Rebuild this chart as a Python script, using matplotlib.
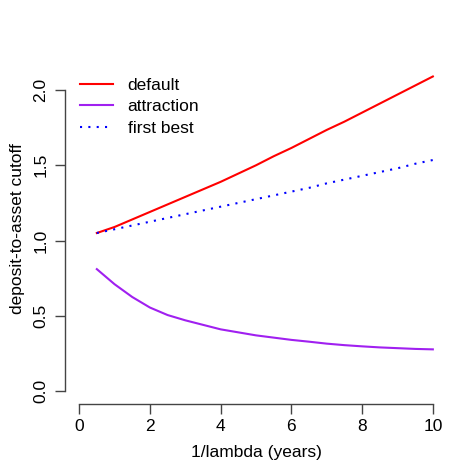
import numpy as np
import matplotlib
matplotlib.use("Agg")
import matplotlib.pyplot as plt

plt.rcParams['font.family'] = ['Liberation Sans', 'DejaVu Sans']

# values
x = [0.5, 1, 1.5, 2, 2.5, 3, 3.5, 4, 4.5, 5, 5.5, 6, 6.5, 7, 7.5, 8, 8.5, 9, 9.5, 10]
default = [1.05, 1.09, 1.14, 1.19, 1.24, 1.29, 1.34, 1.39, 1.445, 1.50,
           1.56, 1.615, 1.675, 1.735, 1.79, 1.85, 1.91, 1.97, 2.03, 2.09]
attraction = [0.81, 0.71, 0.625, 0.555, 0.505, 0.47, 0.44, 0.41, 0.39, 0.37,
              0.355, 0.34, 0.328, 0.315, 0.305, 0.297, 0.29, 0.285, 0.28, 0.277]
first_best = [1.05, 1.075, 1.10, 1.125, 1.15, 1.175, 1.20, 1.225, 1.25, 1.275,
              1.30, 1.325, 1.35, 1.38, 1.405, 1.43, 1.455, 1.48, 1.51, 1.535]

fig = plt.figure(figsize=(4.72, 4.72), dpi=100)
ax = fig.add_axes([65/472, 1-404/472, (447-65)/472, (404-53)/472])

ax.plot(x, default, color='red', lw=1.5, label='default')
ax.plot(x, attraction, color='#A020F0', lw=1.5, label='attraction')
ax.plot(x, first_best, color='blue', lw=1.5, ls=(0, (1, 3)), label='first best')

ax.set_xlim(-0.4, 10.4)
ax.set_ylim(-0.086, 2.246)
ax.set_xticks([0, 2, 4, 6, 8, 10])
ax.set_yticks([0.0, 0.5, 1.0, 1.5, 2.0])
ax.set_yticklabels(['0.0', '0.5', '1.0', '1.5', '2.0'])

for s in ['top', 'right']:
    ax.spines[s].set_visible(False)
ax.spines['left'].set_bounds(0, 2)
ax.spines['bottom'].set_bounds(0, 10)
for s in ['left', 'bottom']:
    ax.spines[s].set_color('#444444')
    ax.spines[s].set_linewidth(1.0)
ax.tick_params(length=7, width=1.0, color='#444444', labelsize=12.5, pad=4)
ax.tick_params(axis='y', labelrotation=90, pad=5)
for lab in ax.get_yticklabels():
    lab.set_va('center')

ax.set_xlabel('1/lambda (years)', fontsize=12.5, labelpad=8)
ax.set_ylabel('deposit-to-asset cutoff', fontsize=12.5, labelpad=6)

ax.legend(loc='upper left', bbox_to_anchor=(73/472, 1-70.5/472),
          bbox_transform=fig.transFigure, frameon=False,
          fontsize=12.5, handlelength=1.88, handletextpad=0.86,
          labelspacing=0.38, borderaxespad=0)

fig.savefig('out.png', dpi=100)
